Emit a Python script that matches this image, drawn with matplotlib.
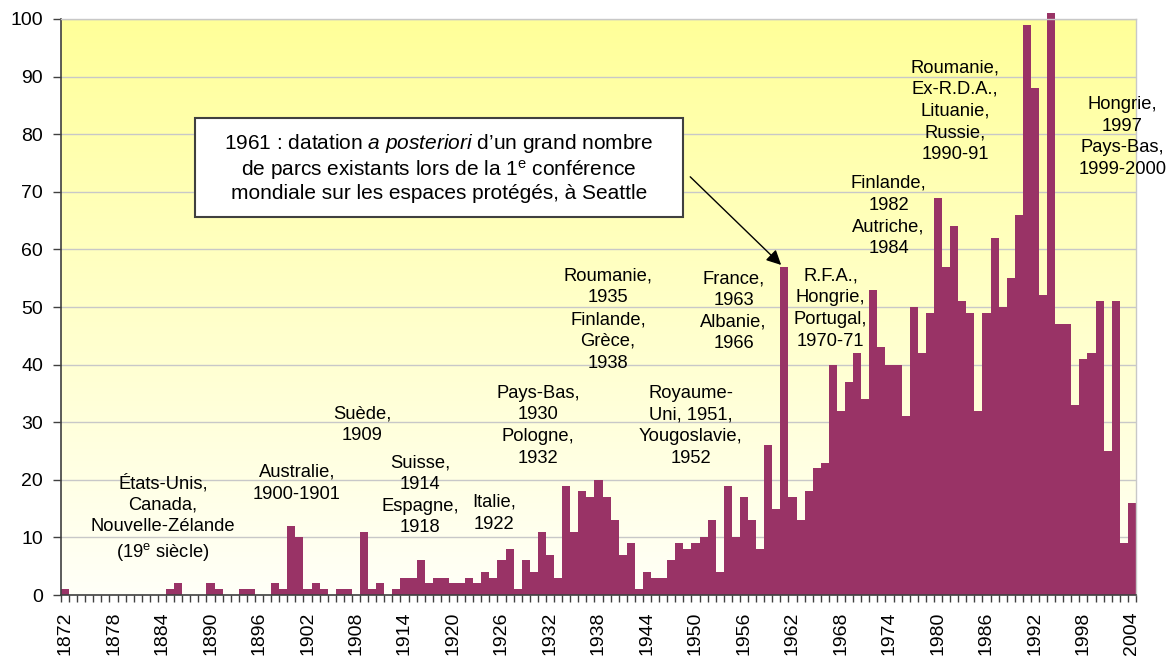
import matplotlib
matplotlib.use("Agg")
import matplotlib.pyplot as plt
import matplotlib.patches
import numpy as np

plt.rcParams["font.family"] = ["Liberation Sans", "DejaVu Sans"]
plt.rcParams["mathtext.fontset"] = "custom"
plt.rcParams["mathtext.rm"] = "Liberation Sans"
plt.rcParams["mathtext.it"] = "Liberation Sans:italic"

# nombre de parcs créés par année, 1872-2004
years = np.arange(1872, 2005)
parcs = [
    1, 0, 0, 0, 0, 0, 0, 0,                 # 1872-1879
    0, 0, 0, 0, 0, 1, 2, 0, 0, 0,           # 1880-1889
    2, 1, 0, 0, 1, 1, 0, 0, 2, 1,           # 1890-1899
    12, 10, 1, 2, 1, 0, 1, 1, 0, 11,        # 1900-1909
    1, 2, 0, 1, 3, 3, 6, 2, 3, 3,           # 1910-1919
    2, 2, 3, 2, 4, 3, 6, 8, 1, 6,           # 1920-1929
    4, 11, 7, 3, 19, 11, 18, 17, 20, 17,    # 1930-1939
    13, 7, 9, 1, 4, 3, 3, 6, 9, 8,          # 1940-1949
    9, 10, 13, 4, 19, 10, 17, 13, 8, 26,    # 1950-1959
    15, 57, 17, 13, 18, 22, 23, 40, 32, 37, # 1960-1969
    42, 34, 53, 43, 40, 40, 31, 50, 42, 49, # 1970-1979
    69, 57, 64, 51, 49, 32, 49, 62, 50, 55, # 1980-1989
    66, 99, 88, 52, 101, 47, 47, 33, 41, 42,# 1990-1999
    51, 25, 51, 9, 16,                      # 2000-2004
]
assert len(parcs) == len(years)

tick_years = np.arange(1872, 2005, 6)

# (année, valeur, texte) des pays annotés
notes = [
    (1884.1, 13.3, "États-Unis,\nCanada,\nNouvelle-Zélande\n(19$^{\\mathrm{e}}$ siècle)"),
    (1900.7, 19.4, "Australie,\n1900-1901"),
    (1908.8, 29.5, "Suède,\n1909"),
    (1915.9, 17.3, "Suisse,\n1914\nEspagne,\n1918"),
    (1925.1, 14.2, "Italie,\n1922"),
    (1930.5, 29.4, "Pays-Bas,\n1930\nPologne,\n1932"),
    (1939.2, 47.8, "Roumanie,\n1935\nFinlande,\nGrèce,\n1938"),
    (1949.4, 29.4, "Royaume-\nUni, 1951,\nYougoslavie,\n1952"),
    (1954.7, 49.3, "France,\n1963\nAlbanie,\n1966"),
    (1966.7, 49.7, "R.F.A.,\nHongrie,\nPortugal,\n1970-71"),
    (1973.9, 65.8, "Finlande,\n1982\nAutriche,\n1984"),
    (1982.1, 84.0, "Roumanie,\nEx-R.D.A.,\nLituanie,\nRussie,\n1990-91"),
    (2002.8, 79.5, "Hongrie,\n1997\nPays-Bas,\n1999-2000"),
]

seattle = ("1961 : datation $\\mathit{a\\ posteriori}$ d’un grand nombre\n"
           "de parcs existants lors de la 1$^{\\mathrm{e}}$ conférence\n"
           "mondiale sur les espaces protégés, à Seattle")

fig = plt.figure(figsize=(11.75, 6.62), dpi=100)
ax = fig.add_axes([0.0519, 0.1012, 0.9149, 0.8701])

x0, x1 = years[0] - 0.5, years[-1] + 0.5
ax.set_xlim(x0, x1)
ax.set_ylim(0, 100)

# fond dégradé jaune -> blanc
grad = np.linspace(0, 1, 256).reshape(-1, 1)
cmap = matplotlib.colors.LinearSegmentedColormap.from_list("fond", ["#FFFFF8", "#FFFF99"])
ax.imshow(grad, extent=[x0, x1, 0, 100], origin="lower", aspect="auto",
          cmap=cmap, zorder=0)

ax.yaxis.grid(True, color="#C8C8C8", lw=1, zorder=1)
ax.set_axisbelow(True)

ax.bar(years, parcs, width=1.0, color="#993366", edgecolor="none",
       zorder=2, clip_on=False)

for x, y, txt in notes:
    ax.text(x, y, txt, ha="center", va="center", fontsize=13.2,
            linespacing=1.36, zorder=3)

# encadré sur 1961
ax.add_patch(matplotlib.patches.Rectangle((0.1247, 0.656), 0.4539, 0.172,
             transform=ax.transAxes, facecolor="white", edgecolor="#404040",
             lw=1.5, zorder=4))
ax.text(0.1247 + 0.4539 / 2, 0.656 + 0.172 / 2, seattle, transform=ax.transAxes,
        ha="center", va="center", fontsize=15, linespacing=1.15, zorder=5)
ax.annotate("", xy=(1960.6, 57.3), xytext=(1949.35, 72.6),
            arrowprops=dict(arrowstyle="-|>", color="black", lw=1,
                            mutation_scale=22, shrinkA=0, shrinkB=0),
            zorder=5)

# axes
ax.set_yticks(np.arange(0, 101, 10))
ax.tick_params(axis="y", direction="out", length=6, width=1, color="#404040",
               labelsize=14, pad=7)
ax.set_xticks(tick_years)
ax.set_xticklabels([str(y) for y in tick_years], rotation=90)
ax.set_xticks(np.arange(x0, x1 + 0.5, 1), minor=True)
ax.tick_params(axis="x", which="major", length=0, labelsize=14, pad=12)
ax.tick_params(axis="x", which="minor", direction="out", length=5, width=1,
               color="#404040")

for side in ("left", "bottom"):
    ax.spines[side].set_color("#404040")
    ax.spines[side].set_linewidth(1.2)
for side in ("top", "right"):
    ax.spines[side].set_color("#C8C8C8")
    ax.spines[side].set_linewidth(1)

fig.savefig("out.png", dpi=100, facecolor="white")
